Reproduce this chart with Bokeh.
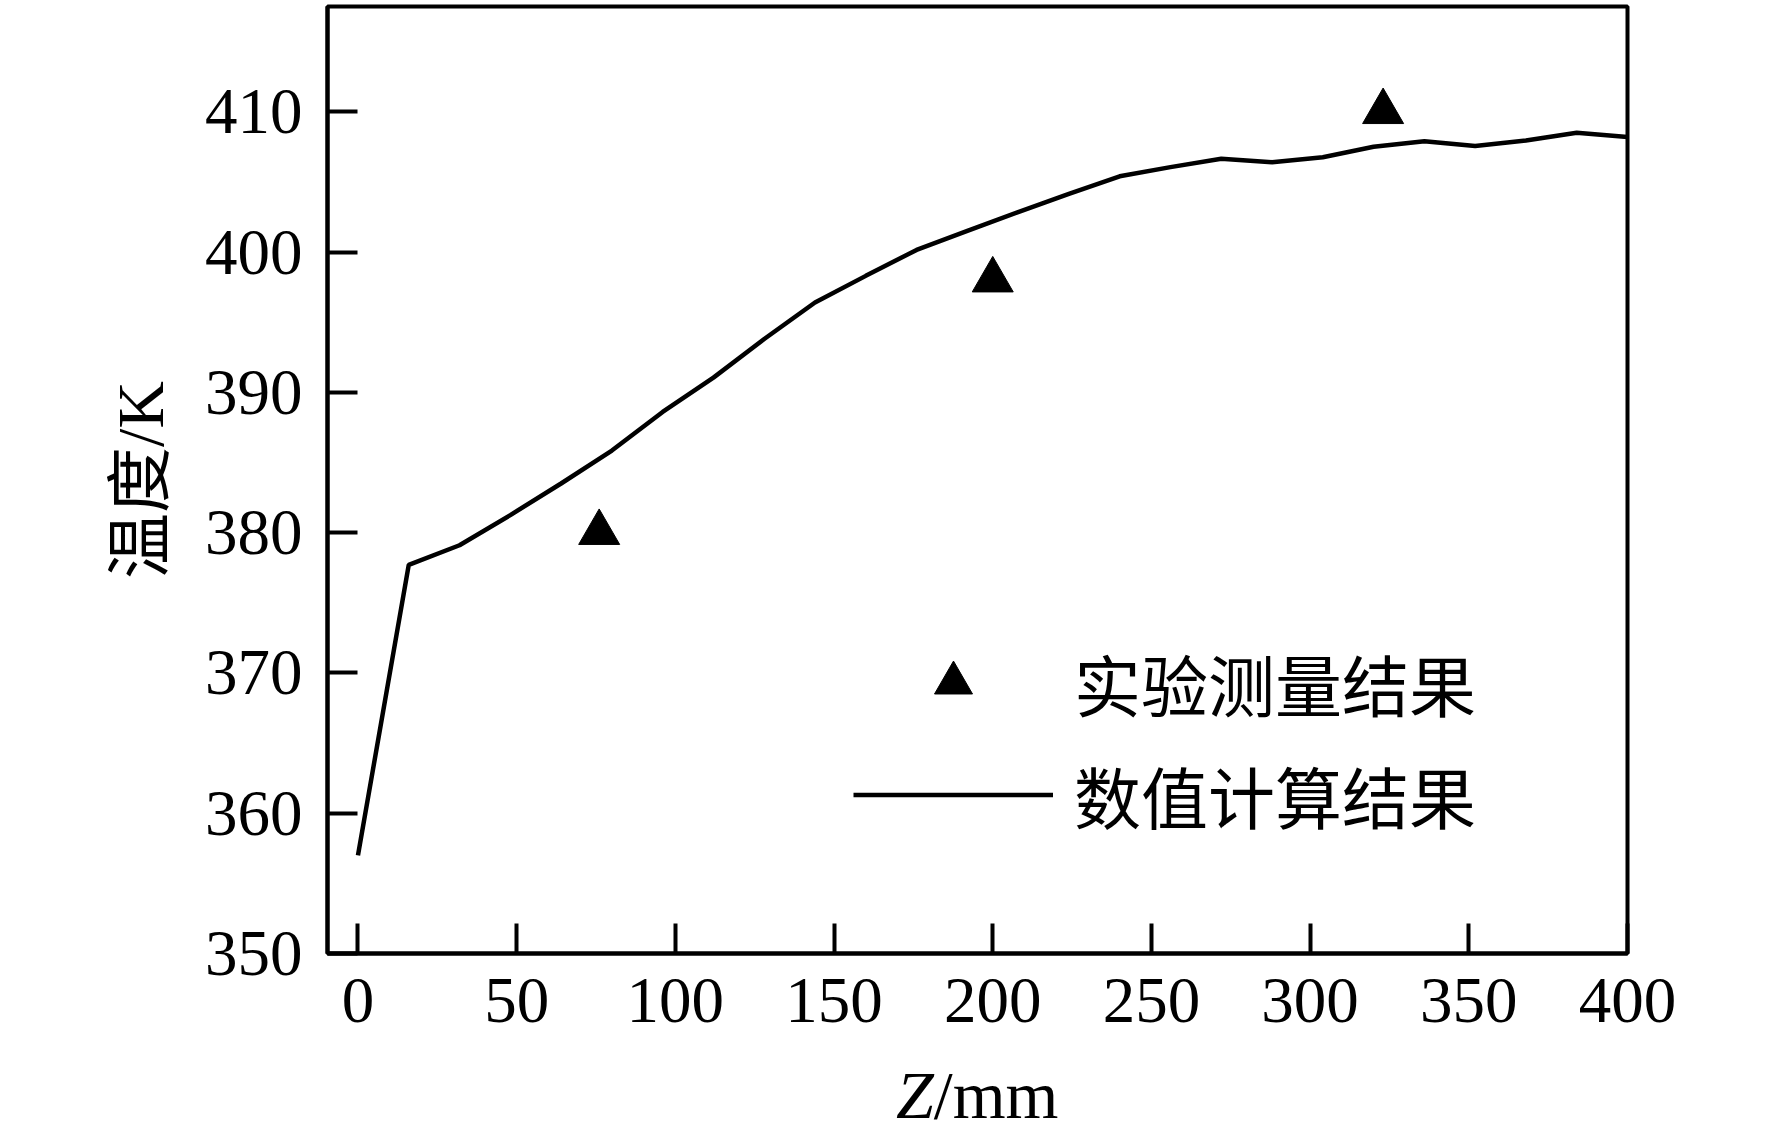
from bokeh.plotting import figure
from bokeh.models import Range1d, FixedTicker, Legend, LegendItem, Div
from bokeh.layouts import column
from bokeh.embed import file_html
from bokeh.resources import INLINE

# Numerical result (Z in mm, temperature in K)
z_calc = [0, 16, 32, 48, 64, 80, 96, 112, 128, 144, 160, 176, 192, 208,
          224, 240, 256, 272, 288, 304, 320, 336, 352, 368, 384, 400]
t_calc = [357.0, 377.7, 379.1, 381.25, 383.5, 385.85, 388.6, 391.05, 393.8,
          396.4, 398.3, 400.15, 401.5, 402.85, 404.15, 405.4, 406.05, 406.65,
          406.4, 406.75, 407.5, 407.9, 407.55, 407.95, 408.5, 408.2]

# Experimental measurements
z_exp = [76, 200, 323]
t_exp = [380.0, 398.0, 410.0]

x_ticks = [0, 50, 100, 150, 200, 250, 300, 350, 400]
y_ticks = [350, 360, 370, 380, 390, 400, 410]

label_exp = "实验测量结果"
label_calc = "数值计算结果"
y_label = "温度/K"
x_label_var = "Z"
x_label_unit = "/mm"

p = figure(width=1756, height=1068, output_backend="svg", toolbar_location=None,
           x_range=Range1d(-9.6, 400), y_range=Range1d(350, 417.5),
           min_border_left=327, min_border_right=129,
           min_border_top=6, min_border_bottom=115)

p.xgrid.visible = False
p.ygrid.visible = False
p.outline_line_color = "black"
p.outline_line_width = 4
p.outline_line_alpha = 1.0
p.background_fill_color = "white"
p.border_fill_color = "white"

for ax in (p.xaxis[0], p.yaxis[0]):
    ax.axis_line_width = 4
    ax.axis_line_color = "black"
    ax.major_tick_line_width = 4
    ax.major_tick_line_color = "black"
    ax.major_tick_in = 30
    ax.major_tick_out = 0
    ax.minor_tick_line_color = None
    ax.major_label_text_font = "Liberation Serif"
    ax.major_label_text_font_size = "65px"
    ax.major_label_text_color = "black"

p.xaxis.ticker = FixedTicker(ticks=x_ticks)
p.yaxis.ticker = FixedTicker(ticks=y_ticks)
p.xaxis.major_label_standoff = 25
p.yaxis.major_label_standoff = 25

p.yaxis.axis_label = y_label
p.yaxis.axis_label_text_font = "Liberation Serif, Noto Sans CJK SC"
p.yaxis.axis_label_text_font_size = "66px"
p.yaxis.axis_label_text_font_style = "normal"
p.yaxis.axis_label_text_color = "black"
p.yaxis.axis_label_standoff = 25

r_line = p.line(z_calc, t_calc, line_width=4.5, line_color="black")
r_pts = p.scatter(z_exp, t_exp, marker="triangle", size=41,
                  fill_color="black", line_color="black")

legend = Legend(items=[LegendItem(label=label_exp, renderers=[r_pts]),
                       LegendItem(label=label_calc, renderers=[r_line])],
                location=(526, 110), glyph_width=200, glyph_height=95,
                label_height=95, spacing=15, padding=0, margin=0,
                label_standoff=21, border_line_color=None,
                background_fill_alpha=0,
                label_text_font="Noto Sans CJK SC", label_text_font_size="67px",
                label_text_color="black")
p.add_layout(legend)

# x-axis title with italic variable name, below the plot
xtitle = Div(text="<i>%s</i>%s" % (x_label_var, x_label_unit),
             width=300, height=56, margin=(0, 0, 0, 896),
             styles={"font-family": "Liberation Serif", "font-size": "68px",
                     "line-height": "54px", "color": "black",
                     "white-space": "nowrap", "overflow": "visible"})

layout = column(p, xtitle, spacing=0)

open("out.html", "w").write(file_html(layout, INLINE))
